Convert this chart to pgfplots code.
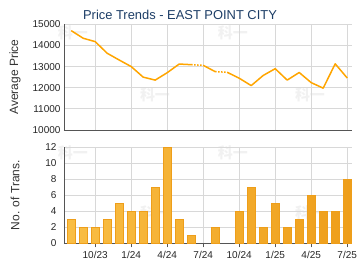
\documentclass[border=0pt]{standalone}
\usepackage{pgfplots}
\pgfplotsset{compat=1.18}
\usepackage{fontspec}
\setmainfont{Liberation Sans}
\newfontfamily\cjk{Noto Sans CJK SC}
\definecolor{gridc}{HTML}{D8D8D8}
\definecolor{axc}{HTML}{555555}
\definecolor{linec}{HTML}{FFA500}
\definecolor{titlec}{HTML}{1C3D66}
\definecolor{barL}{HTML}{F9BE45}
\definecolor{barM}{HTML}{FFDC92}
\definecolor{barR}{HTML}{EE9E1A}
\definecolor{wm}{HTML}{F1F1F1}
\begin{document}
\begin{tikzpicture}
\useasboundingbox (0pt,0pt) rectangle (360pt,270pt);
% watermarks
\foreach \px/\py in {73/237, 233/237, 155/175, 310/175, 73/117, 233/117, 155/57, 310/57}{
  \node[text=wm, font=\cjk\bfseries\fontsize{15}{15}\selectfont] at (\px pt,\py pt) {科一};
}
\node[text=titlec, font=\fontsize{12.9}{14}\selectfont] at (180pt,255pt) {Price Trends - EAST POINT CITY};
\pgfplotsset{
  myax/.style={
    scale only axis, width=288pt,
    xmin=-0.6, xmax=23.4,
    xtick={2,5,8,11,14,17,20,23},
    axis x line*=bottom, axis y line*=left,
    axis line style={axc, line width=0.8pt},
    xmajorgrids, ymajorgrids,
    grid style={gridc, line width=0.8pt},
    tick label style={font=\fontsize{10}{12}\selectfont, text=black!85},
    /pgf/number format/assume math mode=true,
    /pgf/number format/1000 sep={},
    scaled y ticks=false,
    ytick style={draw=none},
    every axis y label/.style={at={(axis description cs:-0.17,0.5)}, rotate=90, anchor=center,
      font=\fontsize{12}{14}\selectfont, text=black!80},
  }
}
\begin{axis}[myax, at={(64pt,140pt)}, anchor=south west, height=105.7pt,
  ymin=10000, ymax=15000, ytick={10000,11000,...,15000},
  xticklabels={}, xtick style={draw=none},
  ylabel={Average Price}, unbounded coords=jump]
\addplot[linec, line width=1.5pt, line join=round] coordinates {
(0,14700) (1,14340) (2,14180) (3,13630) (4,13310) (5,13000) (6,12500) (7,12360)
(8,12710) (9,13120) (10,13090) (10.5,nan) (11,13060) (12,12760) (12.5,nan)
(13,12730) (14,12450) (15,12100) (16,12580) (17,12900) (18,12360) (19,12720)
(20,12240) (21,11980) (22,13130) (23,12460)};
\addplot[linec, line width=1.5pt, dash pattern=on 1.5pt off 1.5pt] coordinates {
(10,13090) (11,13060) (11.5,nan) (12,12760) (13,12730)};
\end{axis}
\begin{axis}[myax, at={(64pt,26.7pt)}, anchor=south west, height=96pt,
  ymin=0, ymax=12, ytick={0,2,...,12},
  xticklabels={10/23,1/24,4/24,7/24,10/24,1/25,4/25,7/25},
  xtick style={axc, line width=0.6pt}, major tick length=4pt, tick align=outside,
  ylabel={No. of Trans.}, ybar, bar width=8pt]
\addplot[draw=barR, line width=0.3pt, left color=barL, middle color=barM, right color=barR] coordinates {
(0,3) (1,2) (2,2) (3,3) (4,5) (5,4) (6,4) (7,7) (8,12) (9,3) (10,1)
(12,2) (14,4) (15,7) (16,2) (17,5) (18,2) (19,3) (20,6) (21,4) (22,4) (23,8)};
\end{axis}
\end{tikzpicture}
\end{document}
